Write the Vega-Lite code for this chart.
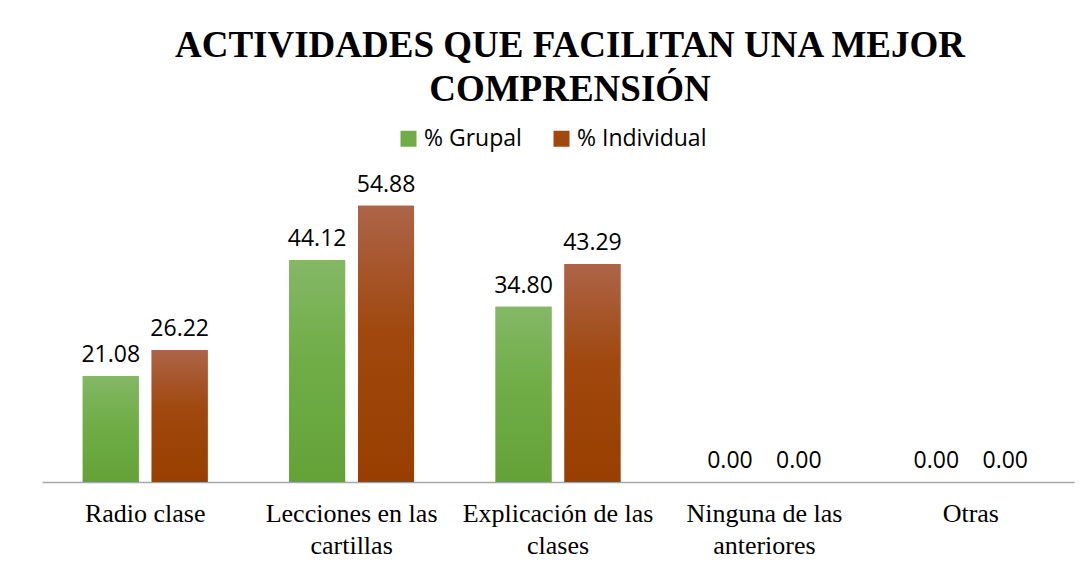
{
  "$schema": "https://vega.github.io/schema/vega-lite/v6.json",
  "width": 1032,
  "height": 302,
  "autosize": {"type": "none"},
  "padding": {"left": 42, "top": 180, "right": 17, "bottom": 92},
  "background": "#ffffff",
  "title": {
    "text": ["ACTIVIDADES QUE FACILITAN UNA MEJOR", "COMPRENSIÓN"],
    "font": "Liberation Serif",
    "fontSize": 37,
    "fontWeight": "bold",
    "color": "#000000",
    "anchor": "middle",
    "lineHeight": 44,
    "dx": 12,
    "offset": 18
  },
  "data": {
    "values": [
      {"categoria": "Radio clase", "serie": "% Grupal", "valor": 21.08},
      {"categoria": "Radio clase", "serie": "% Individual", "valor": 26.22},
      {"categoria": "Lecciones en las cartillas", "serie": "% Grupal", "valor": 44.12},
      {"categoria": "Lecciones en las cartillas", "serie": "% Individual", "valor": 54.88},
      {"categoria": "Explicación de las clases", "serie": "% Grupal", "valor": 34.80},
      {"categoria": "Explicación de las clases", "serie": "% Individual", "valor": 43.29},
      {"categoria": "Ninguna de las anteriores", "serie": "% Grupal", "valor": 0},
      {"categoria": "Ninguna de las anteriores", "serie": "% Individual", "valor": 0},
      {"categoria": "Otras", "serie": "% Grupal", "valor": 0},
      {"categoria": "Otras", "serie": "% Individual", "valor": 0}
    ]
  },
  "encoding": {
    "x": {
      "field": "categoria",
      "type": "nominal",
      "sort": null,
      "scale": {"paddingInner": 0.395, "paddingOuter": 0.1975},
      "axis": {
        "title": null,
        "labelAngle": 0,
        "labelFont": "Liberation Serif",
        "labelFontSize": 26,
        "labelColor": "#000000",
        "labelLineHeight": 32,
        "labelPadding": 18,
        "labelLimit": 400,
        "ticks": false,
        "domainColor": "#a6a6a6",
        "domainWidth": 1.3,
        "grid": false,
        "labelExpr": "datum.value == 'Lecciones en las cartillas' ? ['Lecciones en las', 'cartillas'] : datum.value == 'Explicación de las clases' ? ['Explicación de las', 'clases'] : datum.value == 'Ninguna de las anteriores' ? ['Ninguna de las', 'anteriores'] : datum.value"
      }
    },
    "xOffset": {
      "field": "serie",
      "type": "nominal",
      "sort": ["% Grupal", "% Individual"],
      "scale": {"paddingInner": 0.188, "paddingOuter": 0}
    },
    "y": {
      "field": "valor",
      "type": "quantitative",
      "scale": {"domain": [0, 60], "nice": false},
      "axis": null
    }
  },
  "layer": [
    {
      "mark": {"type": "bar"},
      "encoding": {
        "color": {
          "field": "serie",
          "type": "nominal",
          "sort": ["% Grupal", "% Individual"],
          "scale": {"domain": ["% Grupal", "% Individual"], "range": ["#70ad47", "#a0480e"]},
          "legend": {
            "title": null,
            "orient": "none",
            "direction": "horizontal",
            "legendX": 355,
            "legendY": -53,
            "padding": 0,
            "symbolType": "square",
            "symbolSize": 256,
            "symbolStrokeWidth": 0,
            "labelFont": "Open Sans",
            "labelFontSize": 23,
            "labelColor": "#000000",
            "labelOffset": 4,
            "columnPadding": 28
          }
        }
      }
    },
    {
      "mark": {"type": "bar"},
      "encoding": {
        "color": {
          "condition": {
            "test": "datum.serie === '% Grupal'",
            "value": {
              "gradient": "linear",
              "x1": 0, "y1": 0, "x2": 0, "y2": 1,
              "stops": [
                {"offset": 0, "color": "#84b866"},
                {"offset": 0.45, "color": "#70ad47"},
                {"offset": 1, "color": "#64a238"}
              ]
            }
          },
          "value": {
            "gradient": "linear",
            "x1": 0, "y1": 0, "x2": 0, "y2": 1,
            "stops": [
              {"offset": 0, "color": "#ad6448"},
              {"offset": 0.45, "color": "#a0480e"},
              {"offset": 1, "color": "#983f00"}
            ]
          }
        }
      }
    },
    {
      "mark": {
        "type": "text",
        "font": "Open Sans",
        "fontSize": 23,
        "color": "#000000",
        "baseline": "alphabetic",
        "align": "center",
        "dy": -14
      },
      "encoding": {
        "text": {"field": "valor", "type": "quantitative", "format": ".2f"}
      }
    }
  ],
  "config": {
    "view": {"stroke": null}
  }
}
